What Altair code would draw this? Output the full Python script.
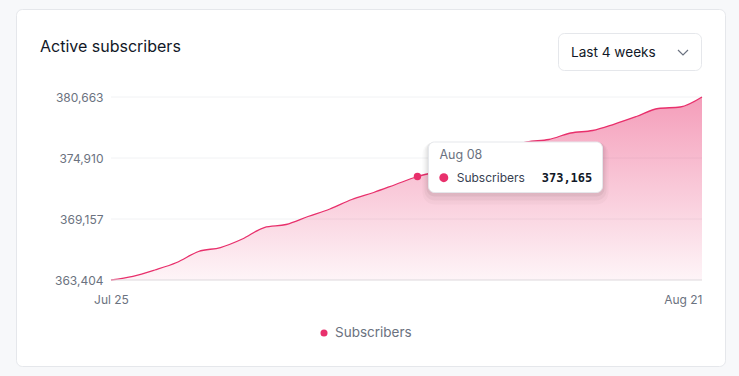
import altair as alt
import pandas as pd

# ---- data ----
dates = [d.strftime("%Y-%m-%d") for d in pd.date_range("2024-07-25", periods=28)]
subscribers = [
    363404, 363753, 364347, 365054, 366092, 366469, 367271, 368355,
    368638, 369393, 370100, 370996, 371656, 372411, 373165, 373684,
    374438, 375098, 375806, 376419, 376655, 377268, 377503, 378116,
    378824, 379578, 379720, 380663,
]
y_ticks = [363404, 369157, 374910, 380663]
x_ticks = ["2024-07-25", "2024-08-21"]
hover_date = "2024-08-08"
series_name = "Subscribers"
title_text = "Active subscribers"
range_text = "Last 4 weeks"

df = pd.DataFrame({"date": dates, "value": subscribers})
hover_df = df[df["date"] == hover_date].copy()
hover_df["series"] = series_name
hover_df["label"] = pd.to_datetime(hover_df["date"]).dt.strftime("%b %d")
ticks_df = pd.DataFrame({"value": y_ticks})
one = pd.DataFrame({"a": [0]})

FONT = "Inter"
PINK = "#e8306c"
GRAY = "#6b7280"

def dt(s):
    y, m, d = [int(p) for p in s.split("-")]
    return alt.DateTime(year=y, month=m, date=d, utc=True)

yscale = alt.Scale(domain=[y_ticks[0], y_ticks[-1]], nice=False, zero=False)
xscale = alt.Scale(type="utc", domain=[dt(dates[0]), dt(dates[-1])])
yaxis = alt.Axis(
    values=y_ticks, format=",.0f", title=None, grid=False, ticks=False, domain=False,
    labelFont=FONT, labelFontSize=12, labelColor=GRAY, labelPadding=8, zindex=1,
)
xaxis = alt.Axis(
    values=[dt(s) for s in x_ticks], format="%b %d",
    title=None, grid=False, ticks=False, domain=False,
    labelFont=FONT, labelFontSize=12, labelColor=GRAY, labelPadding=14,
    labelAlign={"condition": {"test": "datum.index === 1", "value": "right"}, "value": "center"},
    zindex=1,
)

# ---- decorations (card) ----
card = alt.Chart(one).mark_rect(
    fill="white", stroke="#e5e7eb", strokeWidth=1, cornerRadius=6
).encode(x=alt.value(-94.5), x2=alt.value(614.5), y=alt.value(-87.5), y2=alt.value(269.5))

title = alt.Chart(one).mark_text(
    text=title_text, font=FONT, fontSize=16, fontWeight=400, color="#111827",
    align="left", baseline="alphabetic"
).encode(x=alt.value(-71), y=alt.value(-45.5))

dropdown = alt.Chart(one).mark_rect(
    fill="white", stroke="#e5e7eb", strokeWidth=1, cornerRadius=6
).encode(x=alt.value(447.5), x2=alt.value(590.5), y=alt.value(-63.5), y2=alt.value(-26.5))

dropdown_text = alt.Chart(one).mark_text(
    text=range_text, font=FONT, fontSize=13.6, color="#111827",
    align="left", baseline="alphabetic"
).encode(x=alt.value(460), y=alt.value(-39.7))

chevron = alt.Chart(one).mark_point(
    shape="M-1,-0.5L0,0.5L1,-0.5", size=100, filled=False, stroke=GRAY, strokeWidth=1.2, opacity=1
).encode(x=alt.value(572), y=alt.value(-44.5))

# ---- grid ----
grid = alt.Chart(ticks_df).mark_rule(color="#f1f2f4", strokeWidth=1).encode(
    y=alt.Y("value:Q", scale=yscale, axis=yaxis)
)

# ---- series ----
base = alt.Chart(df).encode(
    x=alt.X("date:T", scale=xscale, axis=xaxis),
    y=alt.Y("value:Q", scale=yscale, axis=yaxis),
)

area = base.mark_area(
    interpolate="monotone",
    color=alt.Gradient(
        gradient="linear",
        stops=[
            alt.GradientStop(color="rgba(232,48,108,0.47)", offset=0),
            alt.GradientStop(color="rgba(232,48,108,0.05)", offset=1),
        ],
        x1=1, x2=1, y1=0, y2=1,
    ),
).encode(y2=alt.datum(y_ticks[0]))
line = base.mark_line(interpolate="monotone", color=PINK, strokeWidth=1.3)

baseline = alt.Chart(one).mark_rule(color="#e3dde1", strokeWidth=1.2).encode(
    x=alt.value(0), x2=alt.value(591), y=alt.value(183)
)

hover_pt = alt.Chart(hover_df).mark_point(filled=True, color=PINK, size=55, opacity=1).encode(
    x=alt.X("date:T", scale=xscale, axis=xaxis), y=alt.Y("value:Q", scale=yscale, axis=yaxis)
)

# ---- tooltip ----
shadows = []
for grow, dy, op in [(6, 6, 0.025), (4, 4, 0.035), (2, 2, 0.05)]:
    shadows.append(
        alt.Chart(one).mark_rect(fill="black", opacity=op, cornerRadius=6 + grow).encode(
            x=alt.value(317.5 - grow), x2=alt.value(491.5 + grow),
            y=alt.value(45 - grow + dy), y2=alt.value(95.5 + grow + dy),
        )
    )
tip_box = alt.Chart(one).mark_rect(
    fill="white", stroke="#e5e7eb", strokeWidth=1, cornerRadius=6
).encode(x=alt.value(317.5), x2=alt.value(491.5), y=alt.value(45), y2=alt.value(95.5))

tip_date = alt.Chart(hover_df).mark_text(
    font=FONT, fontSize=12.5, color=GRAY, align="left", baseline="alphabetic"
).encode(text="label:N", x=alt.value(328.5), y=alt.value(62.3))
tip_dot = alt.Chart(hover_df).mark_point(filled=True, color=PINK, size=80, opacity=1).encode(
    x=alt.value(332.8), y=alt.value(80.7)
)
tip_name = alt.Chart(hover_df).mark_text(
    font=FONT, fontSize=12, color="#374151", align="left", baseline="alphabetic"
).encode(text="series:N", x=alt.value(345.7), y=alt.value(84.7))
tip_val = alt.Chart(hover_df).mark_text(
    font="DejaVu Sans Mono", fontSize=12, fontWeight="bold", color="#111827",
    align="right", baseline="alphabetic"
).encode(text=alt.Text("value:Q", format=","), x=alt.value(481.3), y=alt.value(84.7))

# ---- legend ----
leg_dot = alt.Chart(one).mark_point(filled=True, color=PINK, size=50, opacity=1).encode(
    x=alt.value(213), y=alt.value(236)
)
leg_text = alt.Chart(one).mark_text(
    text=series_name, font=FONT, fontSize=13.5, color=GRAY, align="left", baseline="middle"
).encode(x=alt.value(224), y=alt.value(235.5))

chart = alt.layer(
    card, title, dropdown, dropdown_text, chevron, grid, area, line, baseline, hover_pt,
    *shadows, tip_box, tip_date, tip_dot, tip_name, tip_val, leg_dot, leg_text,
).properties(
    width=591, height=183,
    padding={"left": 111, "top": 97, "right": 37, "bottom": 96},
    autosize="none",
    background="#f7f8fa",
).configure_view(strokeWidth=0)

chart.save("out.html", embed_options={"renderer": "svg", "actions": False})
